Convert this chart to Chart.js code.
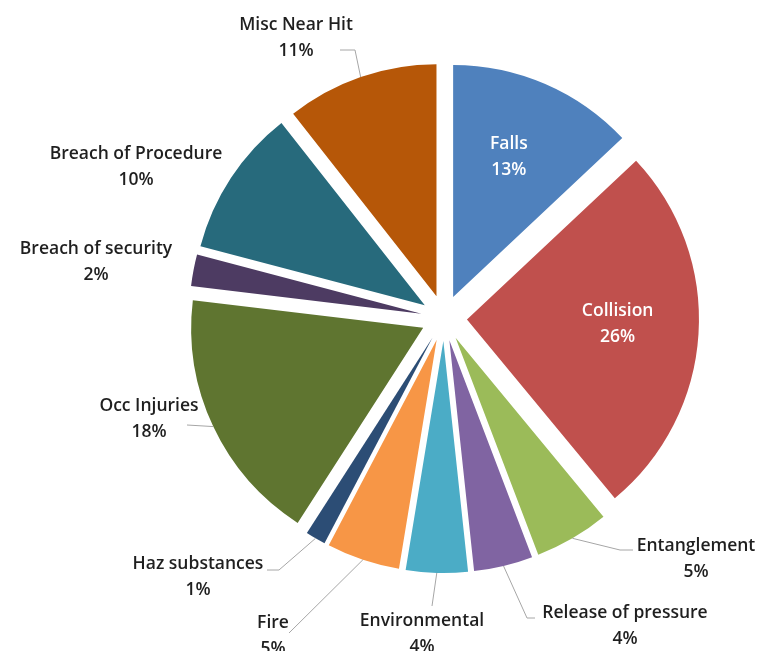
<!DOCTYPE html>
<html>
<head>
<meta charset="utf-8">
<script src="https://cdn.jsdelivr.net/npm/chart.js@4"></script>
<style>
  html, body { margin: 0; padding: 0; background: #fff; }
  #wrap { width: 758px; height: 651px; }
</style>
</head>
<body>
<div id="wrap"><canvas id="incidentPie" width="758" height="651"></canvas></div>
<script>
// Incident categories, clockwise from 12 o'clock
const categories = [
    'Falls', 'Collision', 'Entanglement', 'Release of pressure', 'Environmental',
    'Fire', 'Haz substances', 'Occ Injuries', 'Breach of security',
    'Breach of Procedure', 'Misc Near Hit'
];
// share of incidents (%)
const shares = [13.0, 26.0, 5.2, 4.1, 4.3, 5.1, 1.4, 17.8, 2.2, 10.3, 10.6];

const sliceColors = [
    '#4f81bd', '#c0504d', '#9bbb59', '#8064a2', '#4bacc6',
    '#f79646', '#2c4d75', '#5f7530', '#4d3b62', '#276a7c', '#b65708'
];

// how far every slice is pulled out of the pie (px)
const explode = 23;

// where each label sits, relative to the pie centre; 'inside' labels are placed on the slice
const labelLayout = [
    { inside: true },
    { inside: true },
    { at: [252, 241], leader: [[176, 232], [189, 232]] },
    { at: [181, 308], leader: [[83, 300], [91, 300]] },
    { at: [-22, 316], leader: [[-12, 288]] },
    { at: [-171, 318], leader: [[-155, 315]] },
    { at: [-246, 259], leader: [[-165, 252], [-177, 252]] },
    { at: [-295, 101], leader: [[-257, 107]] },
    { at: [-348, -56] },
    { at: [-308, -151] },
    { at: [-148, -280], leader: [[-89, -268], [-104, -268]] }
];

const total = shares.reduce((a, b) => a + b, 0);

// Chart.js' own offset also grows small slices, so shift each arc ourselves
const explodeSlices = {
    id: 'explodeSlices',
    beforeDatasetDraw(chart, args) {
        const ctx = chart.ctx;
        args.meta.data.forEach(arc => {
            const mid = (arc.startAngle + arc.endAngle) / 2;
            ctx.save();
            ctx.translate(explode * Math.cos(mid), explode * Math.sin(mid));
            arc.draw(ctx, chart.chartArea);
            ctx.restore();
        });
        return false;
    }
};

const sliceLabels = {
    id: 'sliceLabels',
    afterDatasetsDraw(chart) {
        const ctx = chart.ctx;
        const meta = chart.getDatasetMeta(0);
        ctx.save();
        ctx.font = '600 17.5px "Open Sans"';
        ctx.textAlign = 'center';
        ctx.textBaseline = 'middle';
        meta.data.forEach((arc, i) => {
            const p = arc.getProps(['x', 'y', 'startAngle', 'endAngle', 'outerRadius'], true);
            const mid = (p.startAngle + p.endAngle) / 2;
            const cx = p.x + explode * Math.cos(mid);
            const cy = p.y + explode * Math.sin(mid);
            const pct = Math.round(shares[i] / total * 100) + '%';
            const lay = labelLayout[i];
            let tx, ty;
            if (lay.inside) {
                tx = cx + p.outerRadius * 0.65 * Math.cos(mid - 0.03);
                ty = cy + p.outerRadius * 0.65 * Math.sin(mid - 0.03);
                ctx.fillStyle = '#ffffff';
            } else {
                tx = p.x + lay.at[0];
                ty = p.y + lay.at[1];
                ctx.fillStyle = '#1f1f1f';
                if (lay.leader) {
                    ctx.strokeStyle = '#a6a6a6';
                    ctx.lineWidth = 1;
                    ctx.beginPath();
                    ctx.moveTo(cx + p.outerRadius * Math.cos(mid), cy + p.outerRadius * Math.sin(mid));
                    lay.leader.forEach(pt => ctx.lineTo(p.x + pt[0], p.y + pt[1]));
                    ctx.stroke();
                }
            }
            ctx.fillText(categories[i], tx, ty - 13);
            ctx.fillText(pct, tx, ty + 13);
        });
        ctx.restore();
    }
};

new Chart(document.getElementById('incidentPie'), {
    type: 'pie',
    data: {
        labels: categories,
        datasets: [{
            data: shares,
            backgroundColor: sliceColors,
            borderWidth: 0,
            offset: 0,
            radius: 232
        }]
    },
    options: {
        responsive: false,
        animation: false,
        layout: { padding: { left: 130, right: 0, top: 0, bottom: 15 } },
        plugins: {
            legend: { display: false },
            tooltip: { enabled: false }
        }
    },
    plugins: [explodeSlices, sliceLabels]
});
</script>
</body>
</html>
